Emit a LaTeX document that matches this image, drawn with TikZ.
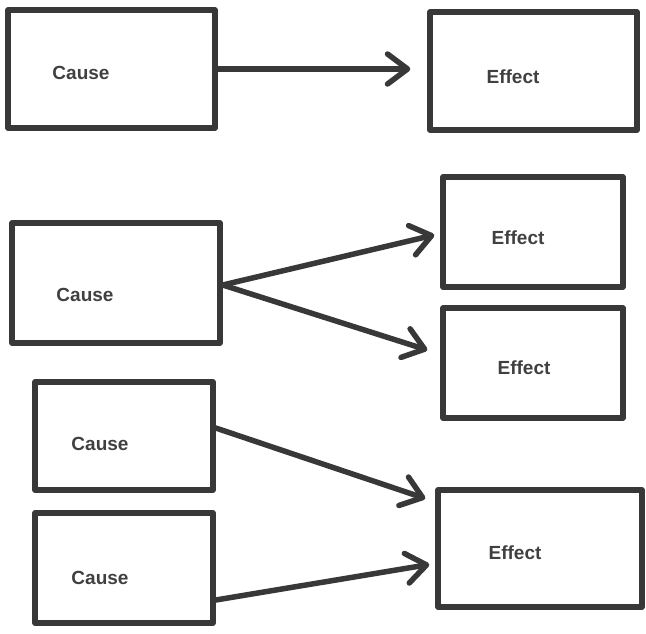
\documentclass[tikz,border=0pt]{standalone}
\usepackage{fontspec}
\setmainfont{Liberation Sans}
\usetikzlibrary{arrows.meta}
\definecolor{ink}{HTML}{383838}
\definecolor{txt}{HTML}{404040}
\begin{document}
\begin{tikzpicture}[x=1pt,y=-1pt,
  box/.style={draw=ink,line width=5.5pt,rectangle,inner sep=0pt,line join=round},
  lbl/.style={inner sep=0pt,text=txt,font=\fontsize{19}{21}\selectfont\bfseries},
  link/.style={draw=ink,line width=5.5pt,line cap=round,
    -{Straight Barb[length=20pt,width=30pt,line cap=round,line join=round]}}]
\useasboundingbox (0,0) rectangle (646,634);
% single cause, single effect
\node[box,minimum width=207pt,minimum height=118pt] (c1) at (111.5,69) {};
\node[box,minimum width=207pt,minimum height=118pt] (e1) at (533.5,71) {};
% one cause, two effects
\node[box,minimum width=208pt,minimum height=120pt] (c2) at (116,283) {};
\node[box,minimum width=180pt,minimum height=110pt] (e2) at (533,232) {};
\node[box,minimum width=180pt,minimum height=110pt] (e3) at (533,363) {};
% two causes, one effect
\node[box,minimum width=178pt,minimum height=108pt] (c3) at (124,436) {};
\node[box,minimum width=178pt,minimum height=110pt] (c4) at (124,568) {};
\node[box,minimum width=204pt,minimum height=117pt] (e4) at (540,548.5) {};
% labels
\node[lbl] (t1) at (81,73) {Cause};
\node[lbl] (t2) at (513,77) {Effect};
\node[lbl] (t3) at (85,295) {Cause};
\node[lbl] (t4) at (518,238) {Effect};
\node[lbl] (t5) at (524,368) {Effect};
\node[lbl] (t6) at (100,444) {Cause};
\node[lbl] (t7) at (100,578) {Cause};
\node[lbl] (t8) at (515,553) {Effect};
% connectors
\draw[link] (c1.east) -- ([xshift=-17pt,yshift=2pt]e1.west);
\draw[link] ([yshift=-2pt]c2.east) -- ([xshift=-6pt,yshift=-3pt]e2.west);
\draw[link] ([yshift=-2pt]c2.east) -- ([xshift=-13pt,yshift=13pt]e3.west);
\draw[link] ([yshift=8pt]c3.east) -- ([xshift=-10pt,yshift=50pt]e4.west);
\draw[link] ([yshift=-32pt]c4.east) -- ([xshift=-6pt,yshift=-16pt]e4.west);
\end{tikzpicture}
\end{document}
